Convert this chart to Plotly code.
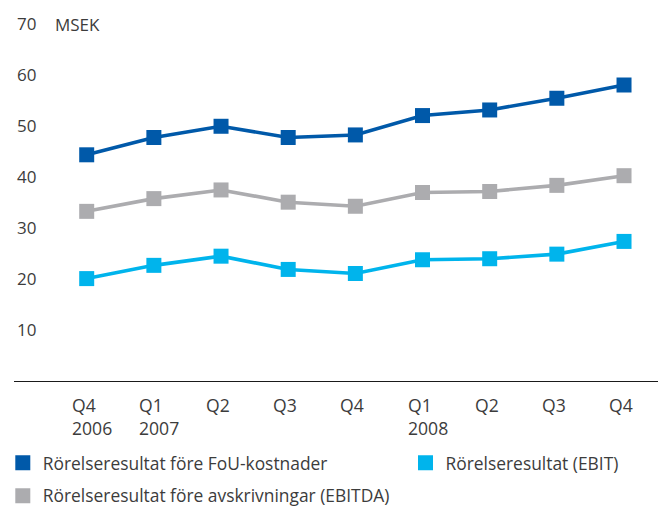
import plotly.graph_objects as go

quarters = ["Q4<br>2006", "Q1<br>2007", "Q2", "Q3", "Q4", "Q1<br>2008", "Q2", "Q3", "Q4"]
fou = [44.4, 47.8, 50.0, 47.8, 48.3, 52.1, 53.2, 55.5, 58.1]
ebitda = [33.3, 35.8, 37.5, 35.1, 34.3, 37.0, 37.2, 38.4, 40.3]
ebit = [20.1, 22.7, 24.5, 21.9, 21.1, 23.8, 24.0, 24.9, 27.4]
names = ["Rörelseresultat före FoU-kostnader", "Rörelseresultat (EBIT)",
         "Rörelseresultat före avskrivningar (EBITDA)"]
yticks = [10, 20, 30, 40, 50, 60, 70]

C_DARK = "#0059A9"
C_LIGHT = "#00B4EC"
C_GRAY = "#ACACAF"
TXT = "#3C3C3C"
FONT = "Open Sans"

W, H = 659, 507
YMAX = 74
L, R, B = 14, 1, 125.5
T = (H - B) - 5.1 * YMAX
PW = W - L - R
PH = H - T - B

x = list(range(len(quarters)))
fig = go.Figure()
series = [(ebitda, C_GRAY), (ebit, C_LIGHT), (fou, C_DARK)]
for vals, col in series:
    fig.add_trace(go.Scatter(x=x, y=vals, mode="lines+markers", showlegend=False,
                             line=dict(color=col, width=3.6),
                             marker=dict(symbol="square", size=15, color=col)))

def px_x(p):
    return (p - L) / PW

def px_y(p):
    return (H - B - p) / PH

leg_specs = [
    (names[0], C_DARK, "legend", 2.8, 463.5),
    (names[1], C_LIGHT, "legend2", 405.5, 463.5),
    (names[2], C_GRAY, "legend3", 2.8, 496.5),
]
layout_legends = {}
for nm, col, lg, lx, ly in leg_specs:
    fig.add_trace(go.Scatter(x=[None], y=[None], mode="markers", name=nm, legend=lg,
                             marker=dict(symbol="square", size=15, color=col)))
    layout_legends[lg] = dict(x=px_x(lx), y=px_y(ly), xanchor="left", yanchor="middle",
                              bgcolor="rgba(0,0,0,0)", borderwidth=0,
                              font=dict(family=FONT, size=17.4, color=TXT))

annotations = []
for i, q in enumerate(quarters):
    annotations.append(dict(x=i, y=0, xref="x", yref="y", text=q, showarrow=False,
                            xanchor="left", yanchor="top", align="left",
                            xshift=-17, yshift=-10,
                            font=dict(family=FONT, size=17.6, color=TXT)))
annotations.append(dict(x=px_x(52.5), y=70, xref="paper", yref="y", text="MSEK",
                        showarrow=False, xanchor="left", yanchor="middle",
                        font=dict(family=FONT, size=17, color=TXT)))

fig.update_layout(
    width=W, height=H,
    margin=dict(l=L, r=R, t=T, b=B, pad=0, autoexpand=False),
    paper_bgcolor="white", plot_bgcolor="white",
    font=dict(family=FONT, size=17, color=TXT),
    xaxis=dict(range=[-1.0825, 8.506], showgrid=False, zeroline=False,
               showticklabels=False, ticks="", showline=True,
               linecolor="#1a1a1a", linewidth=1.4, fixedrange=True),
    yaxis=dict(range=[0, YMAX], showgrid=False, zeroline=False, showline=False,
               tickvals=yticks, ticktext=[str(v) for v in yticks],
               ticklabelposition="inside", ticks="",
               tickfont=dict(family=FONT, size=17, color=TXT), fixedrange=True),
    annotations=annotations,
    **layout_legends,
)

fig.write_html("out.html", config={"displayModeBar": False},
               post_script="document.body.style.margin='0';document.body.style.overflow='hidden';")
